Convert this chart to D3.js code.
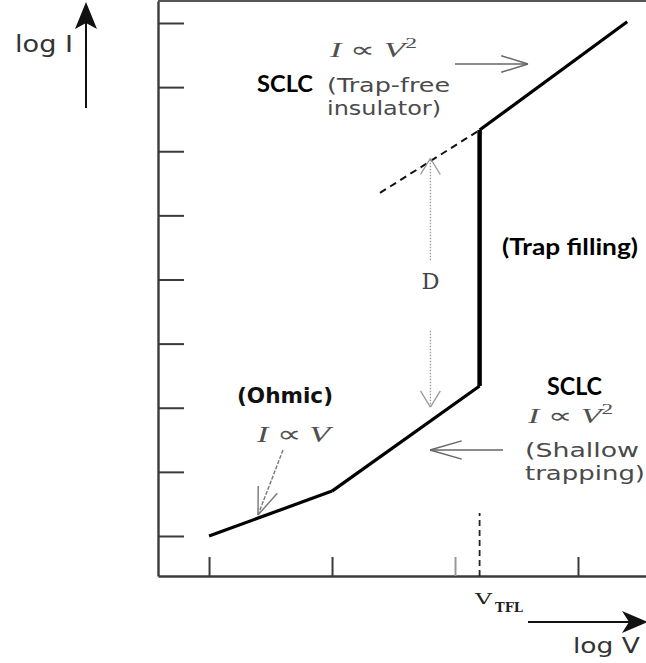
<!DOCTYPE html>
<html><head><meta charset="utf-8">
<script src="https://cdn.jsdelivr.net/npm/d3@7"></script>
<style>html,body{margin:0;padding:0;background:#fff;}svg{display:block}</style>
</head><body>
<svg id="chart" width="646" height="663"></svg>
<script>
// Tick positions (decades) on the log V and log I axes
const vTicks = [1, 2, 3, 4];
const iTicks = [1, 2, 3, 4, 5, 6, 7, 8, 9];

// Piecewise log I – log V characteristic, [logV, logI]
const ohmic = [[1, 1.0], [2, 1.70]];
const shallowTrap = [[2, 1.70], [3.20, 3.34]];
const trapFilling = [[3.20, 3.34], [3.20, 7.33]];
const trapFree = [[3.20, 7.33], [4.40, 9.02]];
const trapFreeExtension = [[2.39, 6.35], [3.20, 7.33]];
const vTFL = 3.20;
const vTFLMarker = [0.376, 1.36];
// Vertical gap D between the trap-free extension and the shallow-trap branch
const gapX = 2.80;
const gapD = [3.01, 6.89];

const svg = d3.select("#chart");
const x = d3.scaleLinear().domain([0.585, 4.553]).range([158, 646]);
const y = d3.scaleLinear().domain([0.376, 9.343]).range([576, 1]);
const line = d3.line().x(d => x(d[0])).y(d => y(d[1]));

// Axes with inward ticks
const ax = svg.append("g").attr("transform", `translate(0,${y(0.376)})`)
  .call(d3.axisBottom(x).tickValues(vTicks).tickSize(-19).tickSizeOuter(0).tickFormat(""));
const ay = svg.append("g").attr("transform", `translate(${x(0.585)},0)`)
  .call(d3.axisLeft(y).tickValues(iTicks).tickSize(-26).tickSizeOuter(0).tickFormat(""));
[ax, ay].forEach(g => {
  g.select(".domain").attr("stroke", "#3a3a3a").attr("stroke-width", 2.4);
  g.selectAll(".tick line").attr("stroke", "#3a3a3a").attr("stroke-width", 2);
});
ax.selectAll(".tick line").filter(d => d === 3).attr("stroke", "#9a9a9a");
// top frame edge
svg.append("line").attr("x1", x(0.585)).attr("x2", x(4.553)).attr("y1", y(9.343)).attr("y2", y(9.343))
  .attr("stroke", "#555").attr("stroke-width", 2);

// Curve
[ohmic, shallowTrap, trapFree].forEach(seg =>
  svg.append("path").attr("d", line(seg)).attr("fill", "none").attr("stroke", "#000").attr("stroke-width", 3.2));
svg.append("path").attr("d", line(trapFilling)).attr("fill", "none").attr("stroke", "#000").attr("stroke-width", 4.5);
svg.append("path").attr("d", line(trapFreeExtension)).attr("fill", "none").attr("stroke", "#111")
  .attr("stroke-width", 2).attr("stroke-dasharray", "7,5");

// V_TFL marker
svg.append("line").attr("x1", x(vTFL)).attr("x2", x(vTFL))
  .attr("y1", y(vTFLMarker[0])).attr("y2", y(vTFLMarker[1]))
  .attr("stroke", "#222").attr("stroke-width", 1.8).attr("stroke-dasharray", "6,4");

// Open arrow helper: line plus two barbs at the tip
function openArrow(x1, y1, x2, y2, opts) {
  const o = Object.assign({stroke: "#666", width: 1.4, head: 28, spread: 0.3, dash: null}, opts || {});
  const g = svg.append("g").attr("stroke", o.stroke).attr("stroke-width", o.width).attr("fill", "none");
  const l = g.append("line").attr("x1", x1).attr("y1", y1).attr("x2", x2).attr("y2", y2);
  if (o.dash) l.attr("stroke-dasharray", o.dash);
  const a = Math.atan2(y2 - y1, x2 - x1);
  [1, -1].forEach(s => {
    g.append("line").attr("x1", x2).attr("y1", y2)
      .attr("x2", x2 - o.head * Math.cos(a + s * o.spread))
      .attr("y2", y2 - o.head * Math.sin(a + s * o.spread));
  });
}

// D gap arrows (dotted)
openArrow(x(gapX), y(5.3), x(gapX), y(gapD[1]), {stroke: "#999", width: 1.3, head: 19, spread: 0.55, dash: "1.5,1.5"});
openArrow(x(gapX), y(4.2), x(gapX), y(gapD[0]), {stroke: "#999", width: 1.3, head: 19, spread: 0.55, dash: "1.5,1.5"});

// Regime pointers
openArrow(455, 64, 528, 64, {head: 28, spread: 0.3});
openArrow(503, 450, 430, 450, {head: 33, spread: 0.28});
openArrow(283, 450, 258, 515, {stroke: "#777", head: 29, spread: 0.36, dash: "4,1.5"});

// Axis direction arrows
const axisArrows = svg.append("g");
axisArrows.append("line").attr("x1", 86).attr("x2", 86).attr("y1", 108).attr("y2", 20)
  .attr("stroke", "#111").attr("stroke-width", 2);
axisArrows.append("path").attr("d", "M86,2 L97,29 L86,23 L75,29 Z").attr("fill", "#111");
axisArrows.append("line").attr("x1", 528).attr("x2", 636).attr("y1", 622).attr("y2", 622)
  .attr("stroke", "#111").attr("stroke-width", 2);
axisArrows.append("path").attr("d", "M648,622 L622,611 L629,622 L622,633 Z").attr("fill", "#111");

// Text helper: left x, baseline y, fitted to width
function label(tx, ty, str, o) {
  const t = svg.append("text").attr("x", tx).attr("y", ty).text(str)
    .attr("font-family", o.family || "DejaVu Sans")
    .attr("font-size", o.size).attr("fill", o.fill || "#4a4a4a")
    .attr("font-weight", o.weight || "normal");
  if (o.width) t.attr("textLength", o.width).attr("lengthAdjust", "spacingAndGlyphs");
  return t;
}
// Proportionality formula "I ∝ V" with optional square
function formula(tx, ty, size, width, sq) {
  const t = svg.append("text").attr("x", tx).attr("y", ty)
    .attr("font-family", "Liberation Serif").attr("font-size", size).attr("fill", "#505050");
  t.append("tspan").attr("font-style", "italic").text("I");
  t.append("tspan").text(" \u221D ");
  t.append("tspan").attr("font-style", "italic").text("V");
  if (sq) t.append("tspan").attr("dy", -size * 0.42).attr("font-size", size * 0.68).text("2");
  t.attr("textLength", width).attr("lengthAdjust", "spacingAndGlyphs");
}

label(15, 52, "log I", {size: 23, fill: "#333", width: 58});
label(573, 653, "log V", {size: 22, fill: "#333", width: 67});

formula(330, 57, 21, 87, true);
label(257, 92, "SCLC", {size: 23.5, weight: "bold", family: "Lato", fill: "#000", width: 56});
label(327, 92, "(Trap-free", {size: 20, width: 123});
label(327, 115, "insulator)", {size: 20, width: 114});

label(502, 255, "(Trap filling)", {size: 23.5, weight: "bold", family: "Lato", fill: "#000", width: 136});

label(237, 403, "(Ohmic)", {size: 20.5, weight: "bold", fill: "#111", width: 96});
formula(257, 442, 23, 73, false);

label(547, 395, "SCLC", {size: 25, weight: "bold", family: "Lato", fill: "#000", width: 55});
formula(528, 423, 21, 85, true);
label(525, 457, "(Shallow", {size: 20, width: 114});
label(525, 480, "trapping)", {size: 20, width: 120});

svg.append("text").attr("x", x(gapX)).attr("y", 289).attr("text-anchor", "middle")
  .attr("font-family", "DejaVu Serif").attr("font-size", 22).attr("fill", "#444")
  .attr("textLength", 18).attr("lengthAdjust", "spacingAndGlyphs").text("D");

label(475, 604, "V", {size: 15.5, family: "DejaVu Serif", fill: "#222", width: 17});
label(495, 612, "TFL", {size: 12.5, family: "DejaVu Serif", weight: "bold", fill: "#222", width: 28});
</script>
</body></html>
